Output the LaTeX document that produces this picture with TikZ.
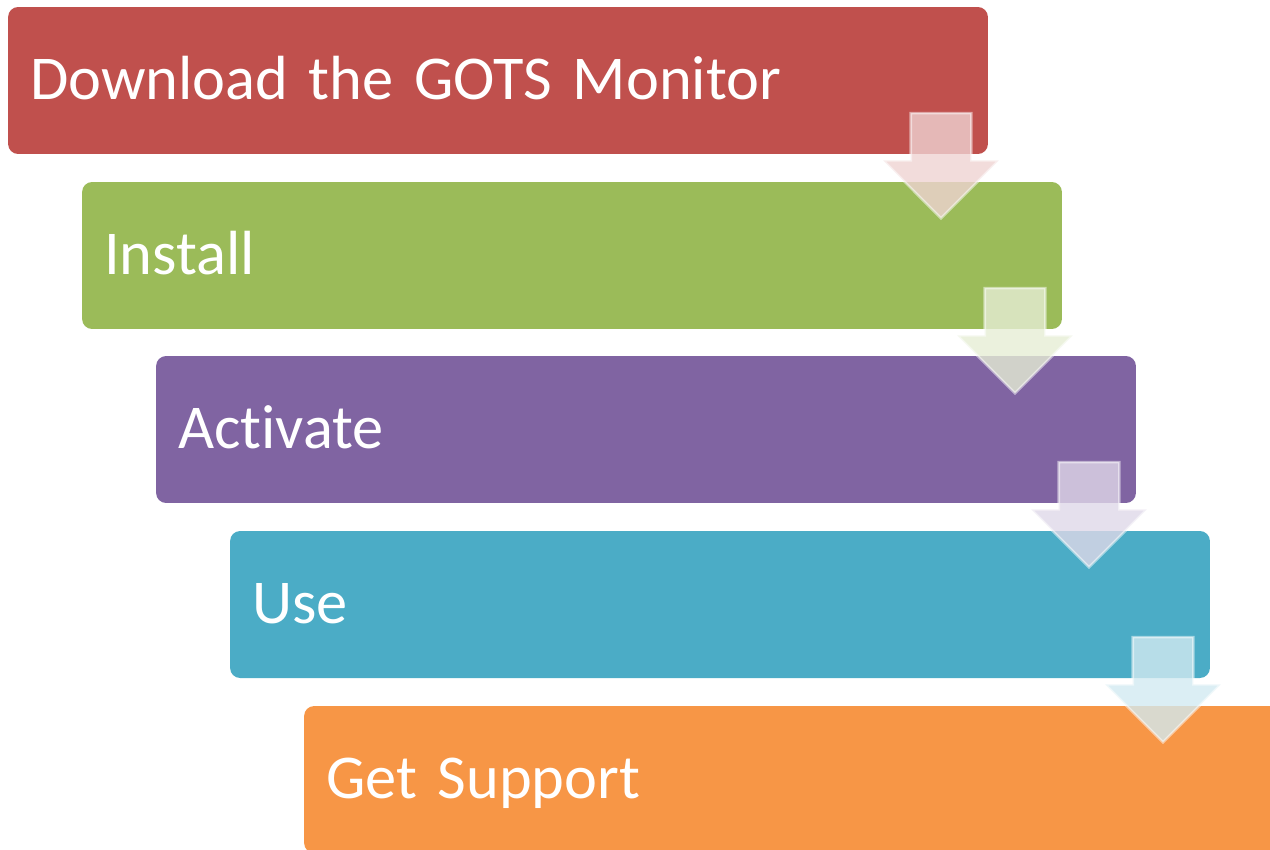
\documentclass[tikz,border=0pt]{standalone}
\usepackage{fontspec}
\setmainfont{Carlito}[Ligatures=CommonOff]
\usetikzlibrary{shapes.arrows}
\definecolor{stepred}{HTML}{C0504D}
\definecolor{stepgreen}{HTML}{9BBB59}
\definecolor{steppurple}{HTML}{8064A2}
\definecolor{stepteal}{HTML}{4BACC6}
\definecolor{steporange}{HTML}{F79646}
\tikzset{
  stepbox/.style={rectangle, rounded corners=0.2cm, fill=#1, text=white,
    minimum width=19.6cm, minimum height=2.94cm, text width=18.72cm,
    inner xsep=0.44cm, inner ysep=0pt, align=left,
    font=\fontsize{35.5}{38}\selectfont, text height=25pt, text depth=3pt},
  steparrow/.style={single arrow, shape border rotate=270,
    single arrow head extend=0.55cm, minimum width=2.26cm, minimum height=2.1cm,
    inner sep=0.58cm, fill=#1!25!white, fill opacity=0.8,
    draw=white, draw opacity=0.5, line width=1.5pt}
}
\begin{document}
\begin{tikzpicture}[x=0.02cm,y=-0.02cm]
      \useasboundingbox (0,0) rectangle (1270,849);
      \clip (0,0) rectangle (1270,849);
      \node[stepbox=stepred] (download) at (498,80.5) {Download the GOTS Monitor};
      \node[stepbox=stepgreen] (install) at (572,255.5) {Install};
      \node[stepbox=steppurple] (activate) at (646,429.5) {Activate};
      \node[stepbox=stepteal] (use) at (720,604.5) {Use};
      \node[stepbox=steporange] (support) at (794,779.5) {Get Support};
      % arrows between the steps
      \node[steparrow=stepred] (a1) at (941,150.5) {};
      \node[steparrow=stepgreen] (a2) at (1015,325.5) {};
      \node[steparrow=steppurple] (a3) at (1089,499.5) {};
      \node[steparrow=stepteal] (a4) at (1163,674.5) {};
    \end{tikzpicture}
\end{document}
